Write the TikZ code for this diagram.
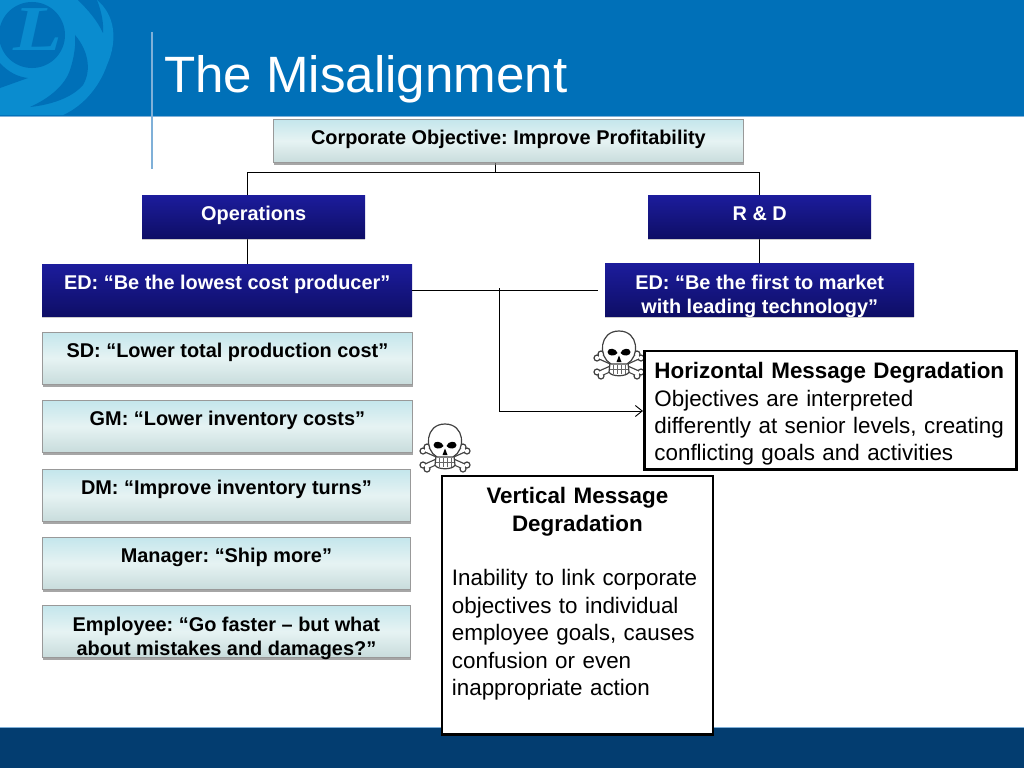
\documentclass[tikz,border=0pt]{standalone}
\usepackage{fontspec}
\setmainfont{Liberation Sans}
\newfontfamily\logofont{Liberation Serif}
\usetikzlibrary{shadows, arrows.meta}
\definecolor{headblue}{HTML}{0070B8}
\definecolor{logoblue}{HTML}{0A8CCF}
\definecolor{rulblue}{HTML}{7FB0D8}
\definecolor{footblue}{HTML}{033D70}
\definecolor{inktop}{HTML}{1C1C9C}
\definecolor{inkbot}{HTML}{0E0E66}
\definecolor{pale}{HTML}{E6F3F3}
\definecolor{paletop}{HTML}{C4E6EC}
\definecolor{palebot}{HTML}{C8DCDC}
\tikzset{
  box/.style = {anchor = north west, inner sep = 0pt, align = center, font = \fontsize{19.9}{24.2}\selectfont\bfseries},
  darkbox/.style = {box, top color = inktop, bottom color = inkbot, text = white, drop shadow = {shadow xshift = 0pt, shadow yshift = -2pt, opacity = .4}},
  lightbox/.style = {box, top color = paletop, bottom color = palebot, middle color = pale, draw = black!40, line width = .8pt, drop shadow = {shadow xshift = .5pt, shadow yshift = -3pt, opacity = .7}},
  notebox/.style = {draw = black, fill = white, line width = 2.8pt, anchor = north west, inner sep = 0pt, align = left, font = \fontsize{22.4}{27.4}\selectfont},
  bone/.style = {draw = black!75, fill = white, line width = 1.2pt},
  skull/.pic = {
    \foreach \s in {1, -1} {
      \draw[black!75, line width = 6.4pt] (\s*-18, 3) -- (\s*18, 19);
      \foreach \a/\b in {-22/4, -18/0, 22/18, 18/22}
        \draw[bone] (\s*\a, \b) circle (3);
    }
    \foreach \s in {1, -1}
      \draw[white, line width = 4pt] (\s*-20, 2) -- (\s*20, 20);
    \draw[bone] (-9, 9) -- (-10, 18) .. controls (-8, 23) and (8, 23) .. (10, 18) -- (9, 9) -- cycle;
    \draw[bone] (-8, 10) .. controls (-21, 3) and (-20, -23) .. (0, -23) .. controls (20, -23) and (21, 3) .. (8, 10) -- cycle;
    \foreach \s in {1, -1}
      \fill[black] (\s*1.5, -1) .. controls (\s*3, -6) and (\s*11, -7) .. (\s*11.5, -2) .. controls (\s*11.5, 2) and (\s*4, 3) .. (\s*1.5, -1) -- cycle;
    \fill[black] (0, 1.5) -- (2.5, 8) -- (-2.5, 8) -- cycle;
    \draw[black!60, line width = .8pt] (-9, 15) -- (9, 15);
    \foreach \i in {-6, -2, 2, 6}
      \draw[black!60, line width = .6pt] (\i, 11) -- (\i, 20);
  }
}
\begin{document}
\frenchspacing
\begin{tikzpicture}[x = 1pt, y = -1pt, >={Straight Barb[length = 7pt, width = 11pt]}]
  \useasboundingbox (0, 0) rectangle (1024, 768);
  \fill[headblue] (0, 0) rectangle (1024, 116);
  \draw[rulblue, line width = .8pt] (0, 116) -- (1024, 116);
  \begin{scope}
    \clip (0, 0) rectangle (125, 115.5);
    \fill[logoblue] (0, 0) -- (97, 0) .. controls (115, 15) and (118, 40) .. (107, 65) .. controls (100, 85) and (85, 105) .. (63, 115) -- (0, 115) -- cycle;
    \fill[headblue] (32, 35) circle (33);
    \fill[headblue] (78, 0) .. controls (88, 10) and (97, 20) .. (103, 33) .. controls (104, 20) and (100, 8) .. (97, 0) -- cycle;
    \fill[headblue] (75, 35) .. controls (88, 50) and (92, 70) .. (83, 85) .. controls (72, 98) and (50, 105) .. (30, 107) .. controls (50, 98) and (65, 85) .. (70, 70) .. controls (74, 58) and (76, 45) .. (75, 35) -- cycle;
    \fill[headblue] (0, 88) -- (28, 78) .. controls (18, 77) and (8, 72) .. (0, 63) -- cycle;
  \end{scope}
  \node[logoblue, xscale = 1.25, font = \fontsize{64}{64}\selectfont\logofont\bfseries\itshape] (logoL) at (38, 30) {L};
  \draw[rulblue, line width = 1.4pt] (152, 32) -- (152, 169);
  \node[white, anchor = base west, inner sep = 0pt, font = \fontsize{51.1}{51}\selectfont] (title) at (164, 92) {The Misalignment};
  \fill[footblue] (0, 728) rectangle (1024, 768);
  \draw[rulblue, line width = .6pt] (0, 727.5) -- (1024, 727.5);

  \coordinate (corpdrop) at (495, 162);
  \coordinate (busleft) at (247, 172);
  \coordinate (busright) at (759, 172);
  \coordinate (tee) at (499, 288);
  \coordinate (bend) at (499, 411);
  \draw[line width = .9pt] (corpdrop) -- (corpdrop |- busleft);
  \draw[line width = .9pt] (busleft) -- (busright);
  \draw[line width = .9pt] (busleft) -- (247, 264);
  \draw[line width = .9pt] (busright) -- (759, 263);

  \node[lightbox, minimum width = 470pt, minimum height = 43pt, text depth = 7pt] (corp) at (273, 119) {Corporate Objective: Improve Profitability};
  \node[darkbox, minimum width = 223pt, minimum height = 43pt, text depth = 7pt] (ops) at (142, 195) {Operations};
  \node[darkbox, minimum width = 223pt, minimum height = 43pt, text depth = 7pt] (rnd) at (648, 195) {R \& D};
  \node[darkbox, minimum width = 370pt, minimum height = 52pt, text depth = 16pt] (edlow) at (42, 264) {ED: “Be the lowest cost producer”};
  \node[darkbox, minimum width = 309pt, minimum height = 53pt, text height = 48pt, text depth = 0pt] (edfirst) at (605, 263) {ED: “Be the first to market\\with leading technology”};
  \node[lightbox, minimum width = 370pt, minimum height = 52pt, text depth = 16pt] (sd) at (42, 332) {SD: “Lower total production cost”};
  \node[lightbox, minimum width = 370pt, minimum height = 52pt, text depth = 16pt] (gm) at (42, 400) {GM: “Lower inventory costs”};
  \node[lightbox, minimum width = 368pt, minimum height = 52pt, text depth = 16pt] (dm) at (42, 469) {DM: “Improve inventory turns”};
  \node[lightbox, minimum width = 368pt, minimum height = 52pt, text depth = 16pt] (mgr) at (42, 537) {Manager: “Ship more”};
  \node[lightbox, minimum width = 368pt, minimum height = 52pt, text height = 49pt, text depth = 0pt] (emp) at (42, 605) {Employee: “Go faster – but what\\about mistakes and damages?”};

  \pic at (619, 354) {skull};
  \pic at (445, 447) {skull};

  \node[notebox, text width = 352pt, minimum height = 118.5pt, inner xsep = 10pt, text height = 24pt] (hdeg) at (643, 349.5) {\textbf{Horizontal Message Degradation}\\Objectives are interpreted\\differently at senior levels, creating\\conflicting goals and activities};
  \node[notebox, text width = 251pt, minimum height = 258.5pt, inner xsep = 10pt] (vdeg) at (440.5, 474.5) {\makebox[\linewidth]{\textbf{Vertical Message}}\\\makebox[\linewidth]{\textbf{Degradation}}\\\mbox{}\\Inability to link corporate\\objectives to individual\\employee goals, causes\\confusion or even\\inappropriate action\\\mbox{}};

  \draw[line width = .9pt, shorten > = 7pt] (edlow.east) -- (edlow.east -| edfirst.west);
  \draw[line width = .9pt, ->] (tee) -- (bend) -- (bend -| hdeg.west);
\end{tikzpicture}
\end{document}
